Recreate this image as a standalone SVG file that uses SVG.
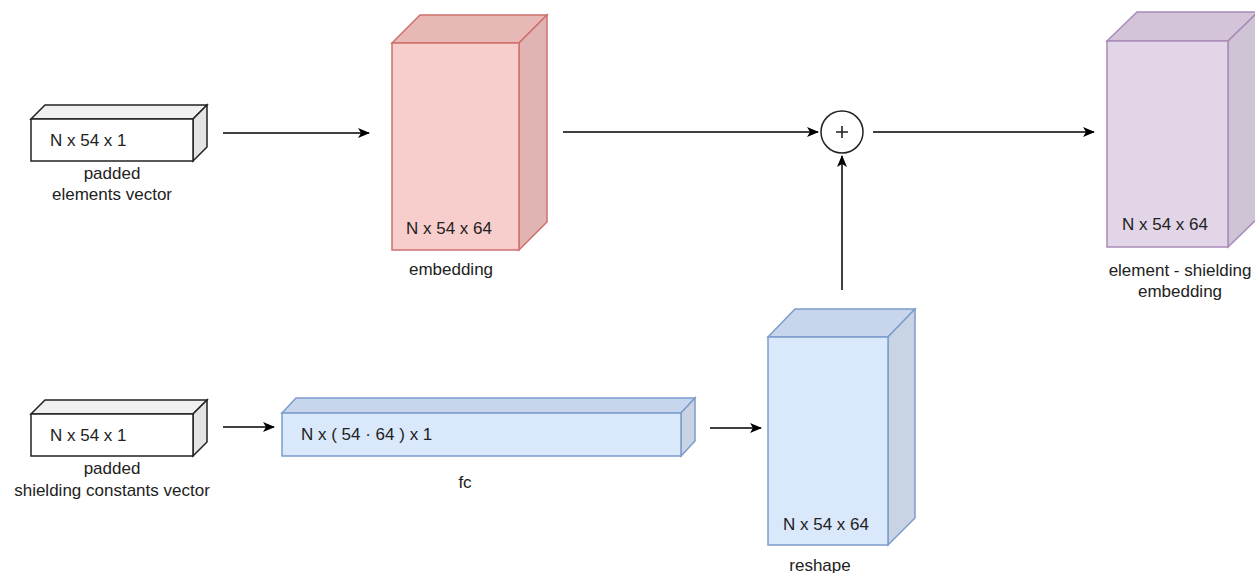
<svg xmlns="http://www.w3.org/2000/svg" width="1255" height="573" viewBox="0 0 1255 573">
<defs>
<marker id="arr" viewBox="0 0 12 10" refX="11" refY="5" markerWidth="12" markerHeight="10" markerUnits="userSpaceOnUse" orient="auto">
<path d="M0,0 L12,5 L0,10 L3,5 Z" fill="#000"/>
</marker>
</defs>
<style>
text{font-family:"Liberation Sans",Arial,sans-serif;font-size:17px;fill:#222}
.lbl{text-anchor:middle}
.edge{stroke:#000;stroke-width:1.5;fill:none;marker-end:url(#arr)}
.w .f{fill:#fff;stroke:#222;stroke-width:1.5}
.w .t{fill:#f0f0f0;stroke:#222;stroke-width:1.5}
.w .s{fill:#e4e4e4;stroke:#222;stroke-width:1.5}
.r .f{fill:#f8cecc;stroke:#d0706c;stroke-width:1.5}
.r .t{fill:#e8b8b6;stroke:#d0706c;stroke-width:1.5}
.r .s{fill:#e0b4b3;stroke:#d0706c;stroke-width:1.5}
.b .f{fill:#dae8fc;stroke:#7c9ccb;stroke-width:1.5}
.b .t{fill:#c7d6ec;stroke:#7c9ccb;stroke-width:1.5}
.b .s{fill:#c8d4e4;stroke:#7c9ccb;stroke-width:1.5}
.p .f{fill:#e1d5e7;stroke:#a98bb8;stroke-width:1.5}
.p .t{fill:#d3c4da;stroke:#a98bb8;stroke-width:1.5}
.p .s{fill:#cfc3d6;stroke:#a98bb8;stroke-width:1.5}
</style>

<g id="connectors">
<line class="edge" x1="223" y1="133" x2="369" y2="133"/>
<line class="edge" x1="563" y1="132" x2="818" y2="132"/>
<line class="edge" x1="873" y1="132" x2="1094" y2="132"/>
<line class="edge" x1="842" y1="290" x2="842" y2="156"/>
<line class="edge" x1="223" y1="427" x2="274" y2="427"/>
<line class="edge" x1="710" y1="428" x2="761" y2="428"/>
</g>

<g id="padded-elements" class="w">
<polygon class="t" points="31,119 45,105 207,105 193,119"/>
<polygon class="s" points="193,119 207,105 207,147 193,161"/>
<rect class="f" x="31" y="119" width="162" height="42"/>
<text x="50" y="146">N x 54 x 1</text>
<text class="lbl" x="112" y="179">padded</text>
<text class="lbl" x="112" y="200">elements vector</text>
</g>

<g id="embedding" class="r">
<polygon class="t" points="392,43 420,15 547,15 519,43"/>
<polygon class="s" points="519,43 547,15 547,222 519,250"/>
<rect class="f" x="392" y="43" width="127" height="207"/>
<text x="406" y="234">N x 54 x 64</text>
<text class="lbl" x="451" y="275">embedding</text>
</g>

<g id="plus">
<circle cx="842" cy="132" r="21" fill="#fff" stroke="#222" stroke-width="1.5"/>
<path d="M836,132 H848 M842,126 V138" stroke="#222" stroke-width="1.6"/>
</g>

<g id="element-shielding-embedding" class="p">
<polygon class="t" points="1107,41 1137,12 1258,12 1228,41"/>
<polygon class="s" points="1228,41 1258,12 1258,218 1228,247"/>
<rect class="f" x="1107" y="41" width="121" height="206"/>
<text x="1122" y="230">N x 54 x 64</text>
<text class="lbl" x="1180" y="276">element - shielding</text>
<text class="lbl" x="1180" y="297">embedding</text>
</g>

<g id="padded-shielding" class="w">
<polygon class="t" points="31,414 45,400 207,400 193,414"/>
<polygon class="s" points="193,414 207,400 207,442 193,456"/>
<rect class="f" x="31" y="414" width="162" height="42"/>
<text x="50" y="441">N x 54 x 1</text>
<text class="lbl" x="112" y="474">padded</text>
<text class="lbl" x="112" y="496">shielding constants vector</text>
</g>

<g id="fc" class="b">
<polygon class="t" points="282,413 296,398 695,398 681,413"/>
<polygon class="s" points="681,413 695,398 695,441 681,456"/>
<rect class="f" x="282" y="413" width="399" height="43"/>
<text x="301" y="440">N x ( 54 · 64 ) x 1</text>
<text class="lbl" x="465" y="488">fc</text>
</g>

<g id="reshape" class="b">
<polygon class="t" points="768,337 795,309 915,309 888,337"/>
<polygon class="s" points="888,337 915,309 915,518 888,545"/>
<rect class="f" x="768" y="337" width="120" height="208"/>
<text x="783" y="530">N x 54 x 64</text>
<text class="lbl" x="820" y="571">reshape</text>
</g>
</svg>
